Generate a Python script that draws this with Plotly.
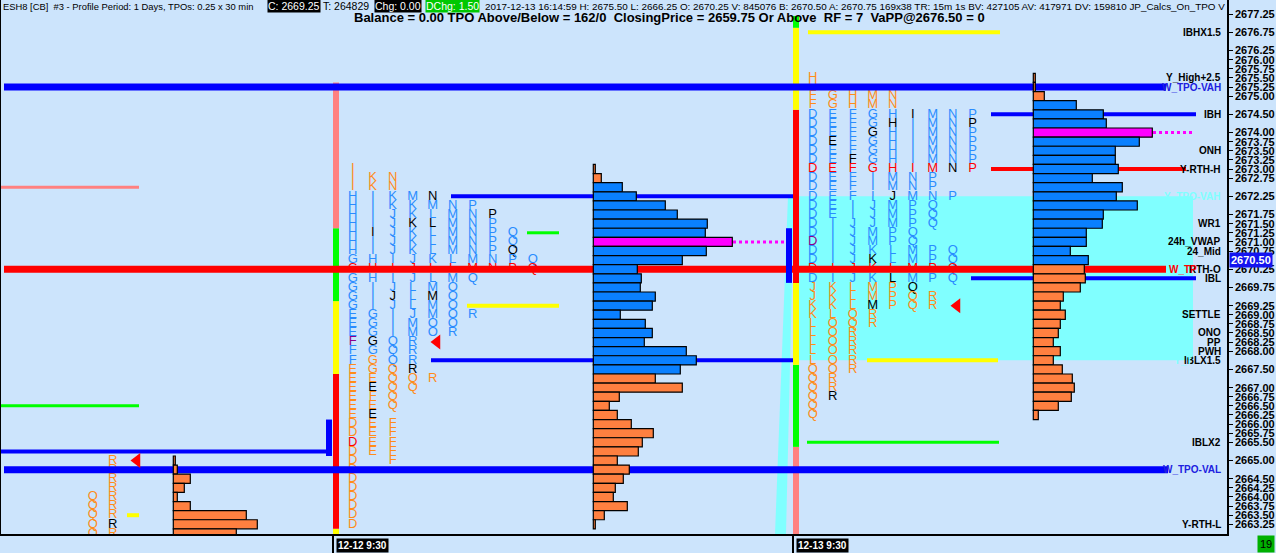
import plotly.graph_objects as go

TICK = 0.25

# ---- volume at price, listed from the top price downwards ----
day0_top = 2665.00
day0_vol = [2, 4, 17, 11, 4, 17, 73, 84, 63]

day1_top = 2673.00
day1_vol = [2, 8, 29, 43, 72, 84, 114, 112, 139, 113, 89, 44, 48, 47, 62, 59, 27, 52, 59, 51,
            93, 103, 87, 62, 89, 26, 16, 24, 38, 60, 49, 45, 24, 36, 30, 22, 20, 34, 11, 2]
day1_poc = 2671.00
day1_va = [2667.50, 2672.50]

day2_top = 2675.50
day2_vol = [2, 2, 11, 43, 70, 73, 119, 106, 82, 82, 85, 59, 89, 83, 104, 70, 69, 53, 53, 37,
            55, 51, 52, 47, 30, 27, 32, 27, 25, 20, 27, 20, 29, 39, 41, 38, 25, 5]
day2_poc = 2674.00
day2_va = [2670.50, 2674.75]

# ---- TPO letter columns: top price, letters (one per tick down), colour codes ----
# o = outside VA, b = inside VA, k = period marker, r = open row, p = special
day0_cols = [
    (2664.00, "QQQQQ", "ooooo"),
    (2665.00, "RRRRRRRRR", "oooooooko"),
]
day1_cols = [
    (2673.00, "IIIHHHHHHHGGGGGGEEEFFFEEEEEEDDDDDDDDDDDD",
     "ooobbbbbbbbrbbbbbbbpbboooooooorooooooooo"),
    (2672.75, "KKIIIIIIIHHHIIIGGGGGGGEEFEEEEEEE", "oobbbbkbbbrbbbbbbbkboookookoooo"),
    (2672.75, "NNKKJJJJJIIIJJJIIIQQQQQQQQ FFFFF", "oobbbbbbbbrbbkbbbbbbbooooo ooooo"),
    (2672.25, "MKKKKKKJJJLLLJMMRRRRQQ", "bbbkbbbbrbbbbbbbbbbkoo"),
    (2672.25, "NMLLLLLKLLMMMMOO    R", "kbbkbbbbrbbkbbbb    o"),
    (2672.00, "NMMMMMLLMOOOOOR", "bbbbbbbrbbbbbbb"),
    (2672.00, "PNNNNNMMQ   R", "bbbbbbbrb   b"),
    (2671.75, "PPPPPNN", "kbbbbbr"),
    (2671.25, "QQQPP", "bbkbr"),
    (2670.50, "QQ", "br"),
]
day2_cols = [
    (2675.50, "HHFFDDDDDDDDDDDDDDDDDDDJJKKLLLLLQQQQQQ",
     "oooobbbbbbrbbbbbbbpbbrbooooooooooooooo"),
    (2675.00, "GGEEEEEEEEEEEEIIIIIIIKKKLOOOOOORRR", "oobbbkbbrbbbbbbbbbbrbooooooooooooko"),
    (2675.00, "HHFFFFFFFFFFIIJJJJJJJLLLQQRRRRR", "oobbbbbkrbbbbbbbbbbrbooooooooooo"),
    (2675.00, "MMGGGGGGGIIIJJJMMKKKKMMMRR", "oobbkbbbrbbbbbbbbbkrbookoo"),
    (2675.00, "NNHHHHHHHMMJMMMPPLLLLPPP", "oobkbbbbrbbkbbbbbbbrkooo"),
    (2674.50, "IIIIIIINNMPPPQQMMMMQQQ", "kbbbbbrbbbbbbbbbbrbkoo"),
    (2674.50, "MMMMMMMPPNQQQ  PPPP RR", "bbbbbbrbbbbbb  bbrb oo"),
    (2674.50, "NNNNNNN  P     QQQQ", "bbbbbbk  b     bbrb"),
    (2674.50, "PPPPPPP", "bkbbbbr"),
]

# ---- reference levels (price) ----
line_names = ["W_TPO-VAH", "W_TPO-RTH-O", "W_TPO-VAL", "D0 ref high", "D0 ref low", "D0 VA edge",
              "D1 VAH", "D1 VAL", "D1 mid", "D1 upper", "D0 close", "IBHX1.5", "IBLX2", "IBLX1.5",
              "IBH", "Y-RTH-H", "IBL"]
line_prices = [2675.25, 2670.25, 2664.75, 2672.50, 2666.50, 2665.25,
               2672.25, 2667.75, 2669.25, 2671.25, 2663.50, 2676.75, 2665.50, 2667.75,
               2674.50, 2673.00, 2670.00]

poc_prices = [day1_poc, day2_poc]
triangle_prices = [2665.00, 2668.25, 2669.25]

label_text = ["IBHX1.5", "Y_High+2.5", "W_TPO-VAH", "IBH", "ONH", "Y-RTH-H", "Y_TPO-VAH", "WR1",
              "24h_VWAP", "24_Mid", "RTH-O", "IBL", "SETTLE", "ONO", "PP", "PWH", "IBLX1.5",
              "IBLX2", "W_TPO-VAL", "Y-RTH-L"]
label_prices = [2676.75, 2675.50, 2675.25, 2674.50, 2673.50, 2673.00, 2672.25, 2671.50,
                2671.00, 2670.75, 2670.25, 2670.00, 2669.00, 2668.50, 2668.25, 2668.00, 2667.75,
                2665.50, 2664.75, 2663.25]

tick_prices = [2677.25, 2676.75, 2676.25, 2676.00, 2675.75, 2675.50, 2675.25, 2675.00, 2674.50,
               2674.00, 2673.75, 2673.50, 2673.25, 2673.00, 2672.75, 2672.25, 2671.75, 2671.50,
               2671.25, 2671.00, 2670.75, 2670.25, 2669.75, 2669.25, 2669.00, 2668.75, 2668.50,
               2668.25, 2668.00, 2667.50, 2667.00, 2666.75, 2666.50, 2666.25, 2666.00, 2665.75,
               2665.50, 2665.00, 2664.50, 2664.25, 2664.00, 2663.75, 2663.50, 2663.25]
last_price = 2670.50

session_labels = ["12-12 9:30", "12-13 9:30"]

# session range bars: (low, high) price bands
day1_bands = [(2662.9, 2663.125), (2663.125, 2667.375), (2667.375, 2669.375),
              (2669.375, 2671.375), (2671.375, 2675.375)]
day2_bands = [(2662.9, 2665.375), (2665.375, 2667.625), (2667.625, 2669.875),
              (2669.875, 2674.625), (2674.625, 2676.875), (2676.875, 2677.2)]
y_tpo_va = [2667.75, 2672.25]

# ---- styling ----
BG = "#CCE4FC"
ORANGE = "#FF8040"
BLUE = "#0A80FF"
MAGENTA = "#FF00FF"
LETTER_COLORS = {"o": "#FF8C1A", "b": "#2A8CFF", "k": "#000000", "r": "#FF0000", "p": "#8B008B"}
Y_RANGE = [2662.984, 2677.638]
X_RANGE = [0, 61.3]

# x slots (1 slot = one 30 min TPO column)
day_first_col = [4.585, 17.585, 40.585]
day_vol_base = [8.615, 29.615, 51.615]
VOL_SCALE = 0.05
session_x = [16.6, 39.6]

line_styles = [  # x0, x1, colour, width, dash
    (0.15, 58.25, "#0000FF", 7, "solid"),
    (0.15, 58.25, "#FF0000", 7, "solid"),
    (0.15, 58.35, "#0000FF", 7, "solid"),
    (0.0, 6.9, "#FF8080", 3, "solid"),
    (0.0, 6.9, "#00FF00", 3, "solid"),
    (0.0, 16.5, "#0000FF", 4, "solid"),
    (22.5, 39.6, "#0000FF", 4, "solid"),
    (21.5, 39.6, "#0000FF", 4, "solid"),
    (23.3, 27.9, "#FFFF00", 4, "solid"),
    (26.3, 27.9, "#00FF00", 3, "solid"),
    (6.3, 6.9, "#FFFF00", 4, "solid"),
    (40.35, 49.95, "#FFFF00", 4, "solid"),
    (40.3, 49.9, "#00FF00", 3, "solid"),
    (43.3, 49.85, "#FFFF00", 4, "solid"),
    (49.5, 59.75, "#0000FF", 4, "solid"),
    (49.5, 59.25, "#FF0000", 4, "solid"),
    (48.5, 59.75, "#0000FF", 4, "solid"),
]
poc_x = [(36.6, 39.45), (57.6, 59.65)]
triangle_x = [6.8, 21.8, 47.8]


def px_x(p):
    return (p - 1) / 1226


def px_y(p):
    return 1 - p / 534


def tpo_trace(first_col, cols):
    xs, ys, ts, cs = [], [], [], []
    for i, (top, letters, codes) in enumerate(cols):
        for j, (ch, cc) in enumerate(zip(letters, codes)):
            if ch == " ":
                continue
            xs.append(first_col + i)
            ys.append(top - j * TICK)
            ts.append(ch)
            cs.append(LETTER_COLORS[cc])
    return go.Scatter(x=xs, y=ys, text=ts, mode="text", textposition="middle center",
                      textfont=dict(family="Liberation Sans", size=13, color=cs),
                      hoverinfo="skip", showlegend=False)


def vol_trace(top, vol, base, va=None, poc=None):
    prices = [top - i * TICK for i in range(len(vol))]
    colors = []
    for p in prices:
        if poc is not None and abs(p - poc) < 1e-6:
            colors.append(MAGENTA)
        elif va is not None and va[0] - 1e-6 <= p <= va[1] + 1e-6:
            colors.append(BLUE)
        else:
            colors.append(ORANGE)
    return go.Bar(y=prices, x=[v * VOL_SCALE for v in vol], base=base, orientation="h",
                  width=TICK, marker=dict(color=colors, line=dict(color="black", width=1.2)),
                  xaxis="x2", yaxis="y2", hoverinfo="skip", showlegend=False)


fig = go.Figure()

# TPO letters (under the level lines)
fig.add_trace(tpo_trace(day_first_col[0], day0_cols))
fig.add_trace(tpo_trace(day_first_col[1], day1_cols))
fig.add_trace(tpo_trace(day_first_col[2], day2_cols))

# level lines
for price, (x0, x1, color, width, dash) in zip(line_prices, line_styles):
    fig.add_trace(go.Scatter(x=[x0, x1], y=[price, price], mode="lines",
                             line=dict(color=color, width=width, dash=dash),
                             hoverinfo="skip", showlegend=False))

# POC extension (dotted)
for price, (x0, x1) in zip(poc_prices, poc_x):
    fig.add_trace(go.Scatter(x=[x0, x1], y=[price, price], mode="lines",
                             line=dict(color=MAGENTA, width=3, dash="dot"),
                             hoverinfo="skip", showlegend=False))

# close markers
fig.add_trace(go.Scatter(x=triangle_x, y=triangle_prices, mode="markers",
                         marker=dict(symbol="triangle-left", size=13, color="#FF0000"),
                         hoverinfo="skip", showlegend=False))

# volume profiles (overlay axes so they sit above the lines)
fig.add_trace(vol_trace(day0_top, day0_vol, day_vol_base[0]))
fig.add_trace(vol_trace(day1_top, day1_vol, day_vol_base[1], day1_va, day1_poc))
fig.add_trace(vol_trace(day2_top, day2_vol, day_vol_base[2], day2_va, day2_poc))

shapes = []
# prior day TPO value area band
shapes.append(dict(type="rect", xref="x", yref="y", x0=39.9, x1=59.6, y0=y_tpo_va[0],
                   y1=y_tpo_va[1], fillcolor="#80FFFF", line_width=0, layer="below"))
shapes.append(dict(type="path", xref="x", yref="y", layer="below", fillcolor="#80FFFF",
                   line_width=0,
                   path=f"M 38.7,{Y_RANGE[0]} L 39.25,{Y_RANGE[0]} L 39.65,{y_tpo_va[1]} "
                        f"L 39.35,{y_tpo_va[1]} Z"))
band_colors1 = ["#FFFF00", "#FF0000", "#FFFF00", "#00FF00", "#FF8080"]
band_colors2 = ["#FF8080", "#00FF00", "#FFFF00", "#FF0000", "#FFFF00", "#00FF00"]
for (lo, hi), c in zip(day1_bands, band_colors1):
    shapes.append(dict(type="rect", xref="x", yref="y", x0=16.6, x1=16.9, y0=lo, y1=hi,
                       fillcolor=c, line_width=0, layer="below"))
for (lo, hi), c in zip(day2_bands, band_colors2):
    shapes.append(dict(type="rect", xref="x", yref="y", x0=39.6, x1=39.9, y0=lo, y1=hi,
                       fillcolor=c, line_width=0, layer="below"))
# last-period brackets
shapes.append(dict(type="rect", xref="x", yref="y", x0=16.25, x1=16.55, y0=2665.125,
                   y1=2666.125, fillcolor="#0000FF", line_width=0))
shapes.append(dict(type="rect", xref="x", yref="y", x0=39.25, x1=39.55, y0=2669.875,
                   y1=2671.375, fillcolor="#0000FF", line_width=0))

annotations = []
# right-hand level labels
label_colors = {"W_TPO-VAH": "#2020E0", "Y_TPO-VAH": "#80FFFF", "W_TPO-VAL": "#2020E0"}
for t, p in zip(label_text, label_prices):
    annotations.append(dict(x=px_x(1223), xref="paper", y=p, yref="y", text=t,
                            xanchor="right", yanchor="middle", showarrow=False,
                            font=dict(family="Liberation Sans", size=10, weight="bold",
                                      color=label_colors.get(t, "#000000"))))
annotations.append(dict(x=px_x(1167), xref="paper", y=2670.25, yref="y", text="W_TP",
                        xanchor="left", yanchor="middle", showarrow=False,
                        font=dict(family="Liberation Sans", size=10, weight="bold",
                                  color="#FF0000")))
annotations.append(dict(x=px_x(1172), xref="paper", y=2667.75, yref="y", text="Y_T",
                        xanchor="left", yanchor="middle", showarrow=False,
                        font=dict(family="Liberation Sans", size=10, weight="bold",
                                  color="#80FFFF")))

# last price box
annotations.append(dict(x=1, xref="paper", xshift=2, y=last_price, yref="y",
                        text=f"{last_price:.2f}", xanchor="left", yanchor="middle",
                        showarrow=False, bgcolor="#1414F0", borderpad=1,
                        font=dict(family="Liberation Sans", size=11, weight="bold",
                                  color="white")))

# session date labels
for sx, lab in zip(session_x, session_labels):
    annotations.append(dict(x=sx + 0.15, xref="x", y=px_y(545), yref="paper", text=lab,
                            xanchor="left", yanchor="middle", showarrow=False,
                            bgcolor="black", borderpad=1,
                            font=dict(family="Liberation Sans", size=10, weight="bold",
                                      color="white")))
annotations.append(dict(x=px_x(1257), xref="paper", y=px_y(544), yref="paper", text="19",
                        xanchor="left", yanchor="middle", showarrow=False,
                        bgcolor="#00B000", borderpad=2,
                        font=dict(family="Liberation Sans", size=11, color="black")))

# header line 1
header_parts = [  # left px, text, background, text colour, font size
    (2, "ESH8 [CB]  #3 - Profile Period: 1 Days, TPOs: 0.25 x 30 min", None, "black", 9.4),
    (267, "C: 2669.25", "black", "white", 10.5),
    (322, "T: 264829", None, "black", 10.5),
    (374, "Chg: 0.00", "black", "white", 10.5),
    (425, "DChg: 1.50", "#00C800", "white", 10.5),
    (484, "2017-12-13 16:14:59 H: 2675.50 L: 2666.25 O: 2670.25 V: 845076 B: 2670.50 "
          "A: 2670.75 169x38 TR: 15m 1s BV: 427105 AV: 417971 DV: 159810 JP_Calcs_On_TPO V",
     None, "black", 9.9),
]
for x0, t, bg, fc, fs in header_parts:
    a = dict(x=px_x(x0), xref="paper", y=px_y(6), yref="paper", text=t, xanchor="left",
             yanchor="middle", showarrow=False, borderpad=0,
             font=dict(family="Liberation Sans", size=fs, color=fc))
    if bg:
        a["bgcolor"] = bg
    annotations.append(a)

annotations.append(dict(x=px_x(352), xref="paper", y=px_y(18), yref="paper",
                        text="Balance = 0.00 TPO Above/Below = 162/0  ClosingPrice = 2659.75 "
                             "Or Above  RF = 7  VaPP@2676.50 = 0",
                        xanchor="left", yanchor="middle", showarrow=False,
                        font=dict(family="Liberation Sans", size=13, weight="bold",
                                  color="black")))

fig.update_layout(
    width=1276, height=553,
    margin=dict(l=1, r=49, t=0, b=19),
    paper_bgcolor=BG, plot_bgcolor=BG,
    barmode="overlay",
    showlegend=False,
    shapes=shapes,
    annotations=annotations,
    xaxis=dict(range=X_RANGE, showgrid=False, zeroline=False, showline=True,
               linecolor="black", linewidth=1.5, tickvals=session_x, ticks="outside",
               ticklen=19, tickwidth=1.5, tickcolor="black", showticklabels=False,
               fixedrange=True),
    yaxis=dict(range=Y_RANGE, side="right", showgrid=False, zeroline=False, showline=True,
               linecolor="black", linewidth=1.5, mirror=True, tickvals=tick_prices,
               ticktext=[f"{p:.2f}" for p in tick_prices], ticks="outside", ticklen=4,
               tickcolor="black", automargin=False,
               tickfont=dict(family="Liberation Sans", size=11, weight="bold",
                             color="black")),
    xaxis2=dict(range=X_RANGE, overlaying="x", visible=False),
    yaxis2=dict(range=Y_RANGE, overlaying="y", visible=False),
)

fig.write_html("out.html", config={"displayModeBar": False},
               post_script="document.body.style.margin='0';document.body.style.overflow='hidden';")
